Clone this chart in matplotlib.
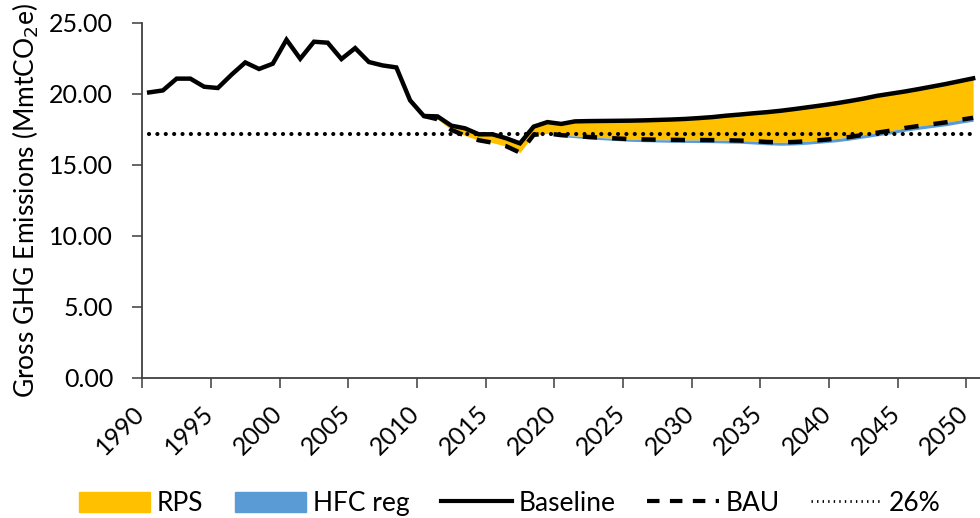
import numpy as np
import matplotlib.pyplot as plt
from matplotlib.patches import Patch
from matplotlib.lines import Line2D

plt.rcParams['font.family'] = ['Lato', 'DejaVu Sans']

years = np.arange(1990, 2051)

baseline = [20.09, 20.23, 21.06, 21.06, 20.49, 20.40, 21.34, 22.20, 21.74, 22.11,
            23.80, 22.46, 23.66, 23.59, 22.44, 23.21, 22.23, 21.99, 21.85, 19.53,
            18.43, 18.40, 17.75, 17.56, 17.14, 17.14, 16.86, 16.50, 17.68, 18.00,
            17.87, 18.05, 18.07, 18.08, 18.09, 18.10, 18.12, 18.15, 18.18, 18.22,
            18.28, 18.35, 18.45, 18.53, 18.62, 18.70, 18.80, 18.92, 19.05, 19.18,
            19.32, 19.48, 19.65, 19.85, 20.00, 20.15, 20.32, 20.50, 20.68, 20.88,
            21.08]

bau = [20.09, 20.23, 21.06, 21.06, 20.49, 20.40, 21.34, 22.20, 21.74, 22.11,
       23.80, 22.46, 23.66, 23.59, 22.44, 23.21, 22.23, 21.99, 21.85, 19.53,
       18.43, 18.20, 17.45, 17.05, 16.72, 16.55, 16.30, 15.85, 17.10, 17.20,
       17.08, 17.02, 16.95, 16.90, 16.85, 16.80, 16.78, 16.76, 16.75, 16.74,
       16.74, 16.73, 16.72, 16.70, 16.66, 16.60, 16.57, 16.60, 16.66, 16.74,
       16.83, 16.95, 17.10, 17.25, 17.40, 17.58, 17.72, 17.85, 17.98, 18.15,
       18.30]

# HFC regulation reduction (thin band just below BAU)
hfc = [0.0] * 30 + [0.10, 0.12, 0.13, 0.14, 0.15, 0.15, 0.16, 0.16, 0.17, 0.17,
                    0.18, 0.18, 0.19, 0.19, 0.20, 0.20, 0.20, 0.21, 0.21, 0.21,
                    0.22, 0.22, 0.22, 0.22, 0.23, 0.23, 0.23, 0.23, 0.24, 0.24,
                    0.24]

target_26 = 17.18

baseline = np.array(baseline)
bau = np.array(bau)
hfc = np.array(hfc)

fig = plt.figure(figsize=(9.8, 5.18), dpi=100)
ax = fig.add_axes([0.1452, 0.2709, 0.8548, 0.6853])

ax.fill_between(years, bau, baseline, color='#FFC000', lw=0)
ax.fill_between(years, bau - hfc, bau, color='#5B9BD5', lw=0)
ax.plot(years, baseline, color='black', lw=3.2, solid_joinstyle='miter')
ax.plot(years[20:], bau[20:], color='black', lw=3.2, ls=(0, (3.2, 3.4)))
ax.plot(years, np.full(len(years), target_26), color='black', lw=3.0,
        ls=(0, (0.01, 2.0)), dash_capstyle='round')

ax.set_xlim(1989.5, 2050.5)
ax.set_ylim(0, 25)
ax.set_yticks(np.arange(0, 26, 5))
ax.set_yticklabels([f'{v:.2f}' for v in np.arange(0, 26, 5)], fontsize=18)
ax.set_xticks(np.arange(1990, 2051, 5))
ax.set_xticklabels([str(y) for y in range(1990, 2051, 5)], rotation=45,
                   ha='right', fontsize=18)
ax.set_xticks(np.arange(1989.5, 2050, 5), minor=True)
ax.tick_params(axis='x', which='major', length=0, pad=17)
ax.tick_params(axis='x', which='minor', length=7, color='#595959', width=1.3)
ax.tick_params(axis='y', length=7, color='#595959', width=1.3, pad=14)

for s in ['top', 'right']:
    ax.spines[s].set_visible(False)
for s in ['left', 'bottom']:
    ax.spines[s].set_color('#404040')
    ax.spines[s].set_linewidth(1.3)

ax.set_ylabel('Gross GHG Emissions (MmtCO$_2$e)', fontsize=19, labelpad=6)

handles = [Patch(color='#FFC000'), Patch(color='#5B9BD5'),
           Line2D([], [], color='black', lw=3),
           Line2D([], [], color='black', lw=3, ls=(0, (3, 2.5))),
           Line2D([], [], color='black', lw=2, ls=(0, (0.5, 1.5)))]
labels = ['RPS', 'HFC reg', 'Baseline', 'BAU', '26%']
fig.legend(handles, labels, loc='center', bbox_to_anchor=(0.52, 0.028), ncol=5,
           frameon=False, fontsize=19, handlelength=2.7, handleheight=0.8,
           handletextpad=0.25, columnspacing=1.2)

plt.savefig('out.png', dpi=100)
